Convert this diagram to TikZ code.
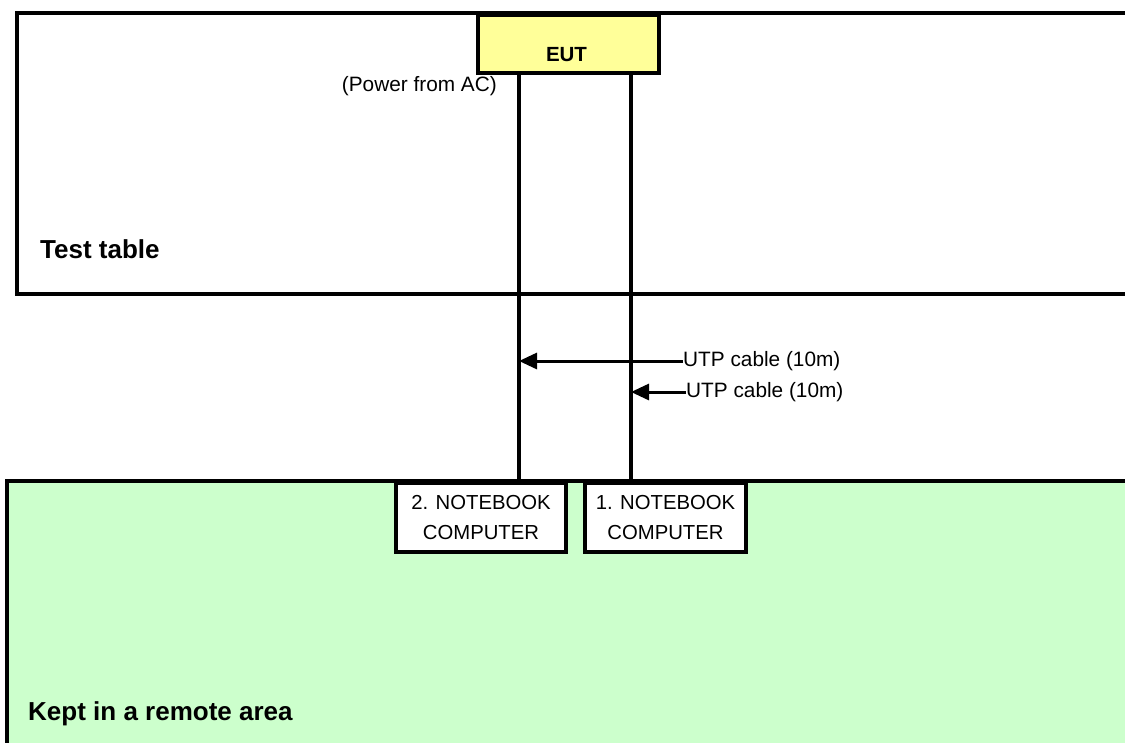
\documentclass[tikz,border=0pt]{standalone}
\usepackage{fontspec}
\setmainfont{Liberation Sans}
\usetikzlibrary{arrows.meta}
\definecolor{eutyellow}{HTML}{FFFF99}
\definecolor{remotegreen}{HTML}{CCFFCC}
\tikzset{
  area/.style={draw=black, line width=4pt},
  devbox/.style={draw=black, line width=4pt, fill=white, align=center, inner sep=0pt, font=\fontsize{20.3}{30}\selectfont},
  cable/.style={line width=3.5pt},
  lbl/.style={font=\fontsize{20.8}{24}\selectfont, inner sep=0pt},
  boldlbl/.style={font=\bfseries\fontsize{26}{30}\selectfont, inner sep=0pt, anchor=base west},
  ptr/.style={line width=3pt, -{Triangle[length=18pt,width=16pt]}}
}
\begin{document}
\begin{tikzpicture}[x=1pt,y=-1pt]
\clip (0,0) rectangle (1125,742);
\fill[white] (0,0) rectangle (1125,742);
% test table
\draw[area] (17,13) rectangle (1140,294);
\node[boldlbl] (tt) at (40,258) {Test table};
% remote area
\draw[area, fill=remotegreen] (7,481) rectangle (1140,760);
\node[boldlbl] (ra) at (28,720) {Kept in a remote area};
% EUT
\node[draw=black, line width=4pt, fill=eutyellow, minimum width=181pt, minimum height=58pt, inner sep=0pt, anchor=north west] (eut) at (476,13) {};
\node[font=\bfseries\fontsize{20.5}{24}\selectfont, inner sep=0pt] (euttext) at (566.5,55) {EUT};
\node[lbl, anchor=east] (pwr) at (497,86) {(Power from AC)};
% notebooks
\node[devbox, minimum width=170pt, minimum height=69pt, anchor=north west] (nb2) at (394,481) {2. NOTEBOOK\\COMPUTER};
\node[devbox, minimum width=161pt, minimum height=69pt, anchor=north west] (nb1) at (583,481) {1. NOTEBOOK\\COMPUTER};
% cables
\coordinate (x2) at (519,0);
\coordinate (x1) at (631,0);
\draw[cable] (eut.south -| x2) -- (nb2.north -| x2);
\draw[cable] (eut.south -| x1) -- (nb1.north -| x1);
% labels and arrows
\node[lbl, anchor=west] (utp2) at (683,361) {UTP cable (10m)};
\node[lbl, anchor=west] (utp1) at (686,392) {UTP cable (10m)};
\draw[ptr] (utp2.west) -- (utp2.west -| x2);
\draw[ptr] (utp1.west) -- (utp1.west -| x1);
\end{tikzpicture}
\end{document}
